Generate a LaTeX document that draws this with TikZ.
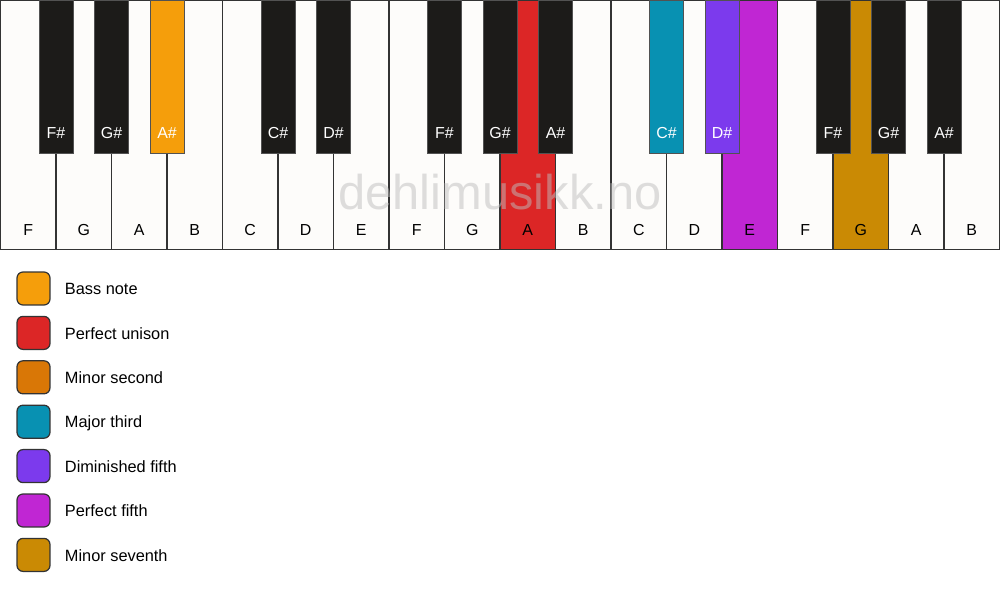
\documentclass[tikz,border=0pt]{standalone}
\usepackage{fontspec}
\setmainfont{Liberation Sans}
\usetikzlibrary{positioning}
\definecolor{keywhite}{HTML}{FDFCFA}
\definecolor{keyblack}{HTML}{1C1B19}
\definecolor{keyedge}{HTML}{333333}
\definecolor{markgray}{HTML}{BEBEBE}
\definecolor{bassnote}{HTML}{F59E0B}
\definecolor{unison}{HTML}{DC2626}
\definecolor{minsecond}{HTML}{D97706}
\definecolor{majthird}{HTML}{0891B2}
\definecolor{dimfifth}{HTML}{7C3AED}
\definecolor{perffifth}{HTML}{C026D3}
\definecolor{minseventh}{HTML}{CA8A04}
\newcommand{\keyfont}{\fontsize{9.07}{11}\selectfont}
\newcommand{\legfont}{\fontsize{9.3}{11}\selectfont}
\newcommand{\wmfont}{\fontsize{27.8}{30}\selectfont}
\tikzset{wkey/.style={
          draw=keyedge, line width=0.7pt, fill=keywhite,
          anchor=north west, inner sep=0pt, outer sep=0pt,
          minimum width=1.11cm, minimum height=4.98cm
          },
        bkey/.style={
          draw=keyedge!85, line width=0.5pt, fill=keyblack,
          anchor=north, inner sep=0pt, outer sep=0pt,
          minimum width=0.68cm, minimum height=3.05cm
          },
        wlabel/.style={font=\keyfont, text=black, inner sep=0pt},
        blabel/.style={font=\keyfont, text=white, inner sep=0pt},
        legendbox/.style={
          draw=keyedge, line width=0.7pt, rounded corners=0.12cm,
          minimum size=0.66cm, inner sep=0pt
          },
        legendtext/.style={font=\legfont, anchor=west, inner sep=0pt,
          text height=7pt, text depth=0pt % same height for every row, or "j" lifts its line
          },
        watermark/.style={font=\wmfont, text=markgray, opacity=0.5, inner sep=0pt},
}
\begin{document}
\begin{tikzpicture}[x=0.02cm, y=-0.02cm]
      \path[fill=white, use as bounding box] (0,0) rectangle (1000,594);

      % WHITE KEYS
      \foreach \n/\c [count=\i from 0] in {F/keywhite, G/keywhite, A/keywhite, B/keywhite,
          C/keywhite, D/keywhite, E/keywhite, F/keywhite, G/keywhite, A/unison, B/keywhite,
          C/keywhite, D/keywhite, E/perffifth, F/keywhite, G/minseventh, A/keywhite, B/keywhite} {
        \node[wkey, fill=\c] (w-\i) at ({0.5+55.5*\i},0.5) {};
        \node[wlabel] (wl-\i) at ([yshift=0.39cm]w-\i.south) {\n};
      }

      % WATERMARK
      \node[watermark] (mark) at (500,192) {dehlimusikk.no};

      % BLACK KEYS (b = index of the white key boundary)
      \foreach \b/\n/\c in {1/F\#/keyblack, 2/G\#/keyblack, 3/A\#/bassnote,
          5/C\#/keyblack, 6/D\#/keyblack, 8/F\#/keyblack, 9/G\#/keyblack, 10/A\#/keyblack,
          12/C\#/majthird, 13/D\#/dimfifth, 15/F\#/keyblack, 16/G\#/keyblack, 17/A\#/keyblack} {
        \node[bkey, fill=\c] (b-\b) at ({0.5+55.5*\b},0.5) {};
        \node[blabel] (bl-\b) at ([yshift=0.4cm]b-\b.south) {\n};
      }

      % LEGEND
      \foreach \c/\t [count=\k from 0] in {bassnote/Bass note, unison/Perfect unison,
          minsecond/Minor second, majthird/Major third, dimfifth/Diminished fifth,
          perffifth/Perfect fifth, minseventh/Minor seventh} {
        \node[legendbox, fill=\c] (box-\k) at (33.5,{288.5+44.4*\k}) {};
        \node[legendtext, right=0.28cm of box-\k] (txt-\k) {\t};
      }
\end{tikzpicture}
\end{document}
